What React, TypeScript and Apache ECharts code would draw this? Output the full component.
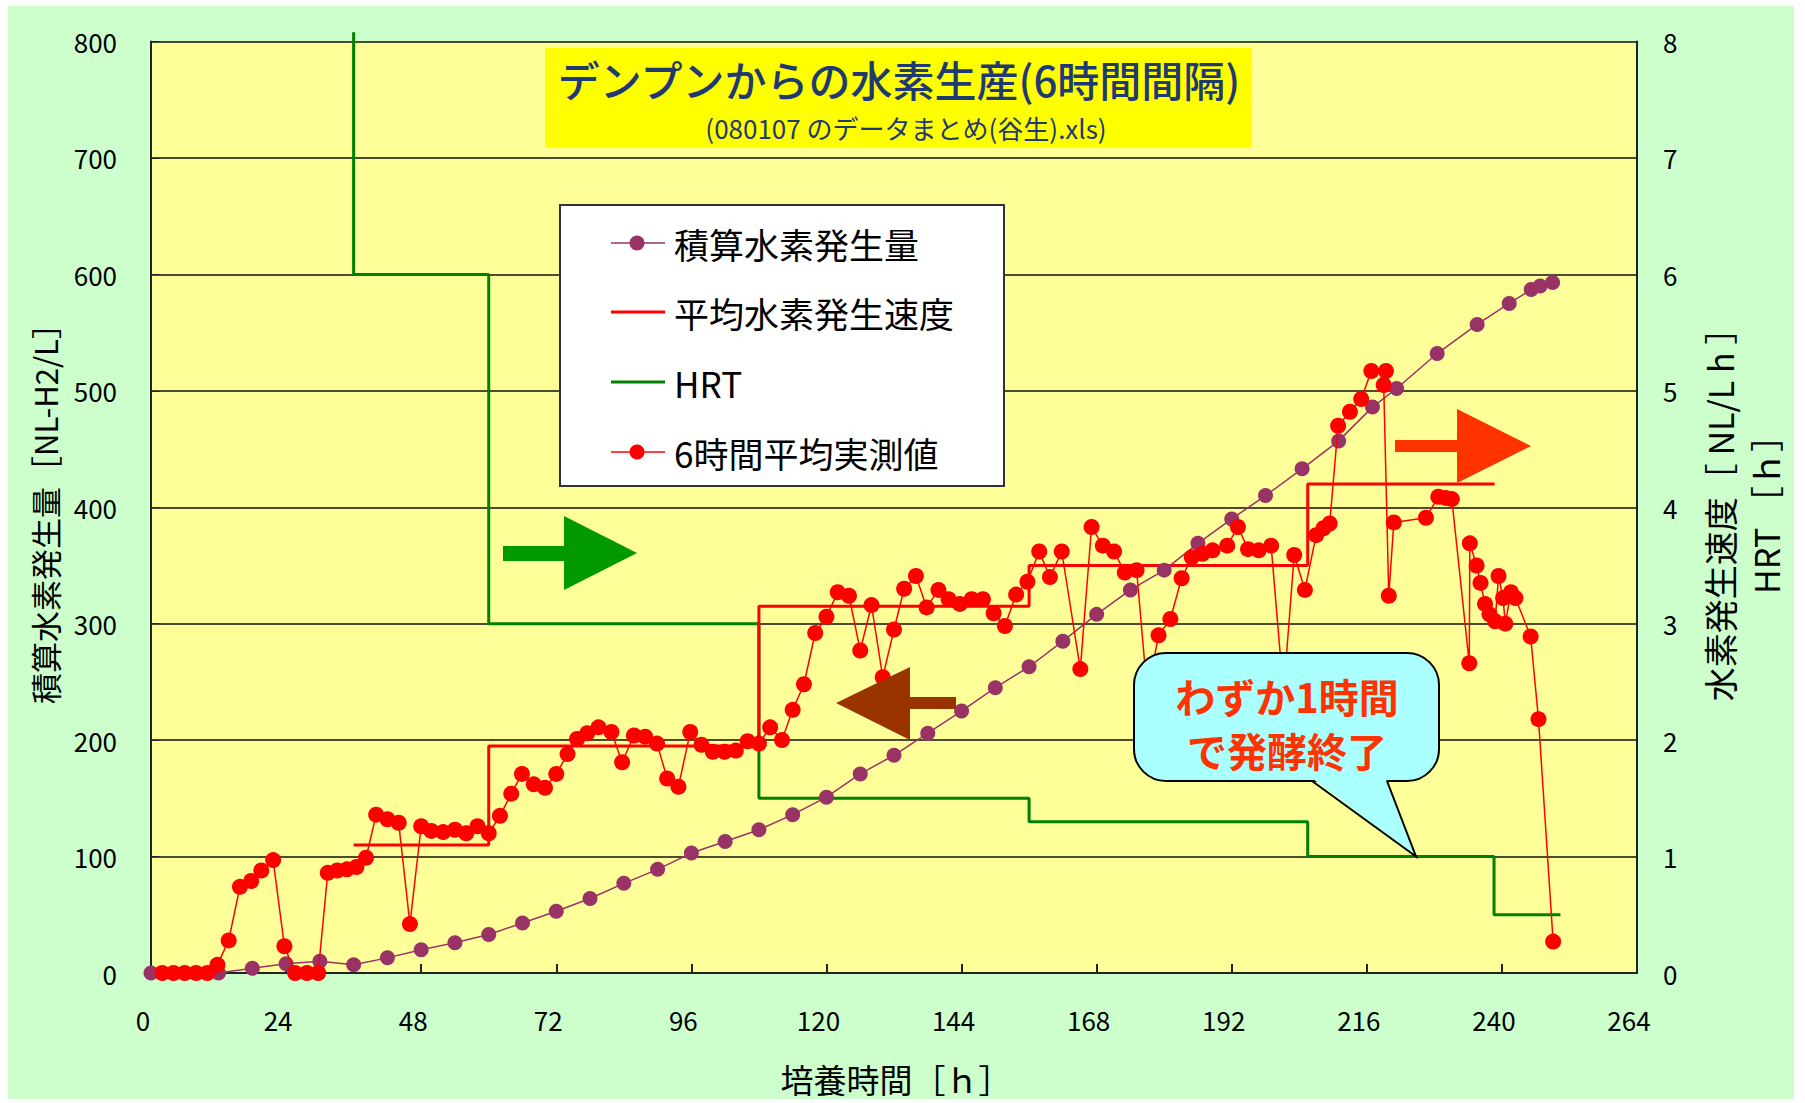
import React, { useEffect, useRef } from 'react';
import * as echarts from 'echarts';

// ---- data ----
const xTickStep = 24;
const xMax = 264;
const leftMax = 800;
const rightMax = 8;

// 積算水素発生量 [NL-H2/L] (left axis)
const cumHours = [0, 6, 12, 18, 24, 30, 36, 42, 48, 54, 60, 66, 72, 78, 84, 90, 96, 102, 108, 114, 120, 126, 132, 138, 144, 150, 156, 162, 168, 174, 180, 186, 192, 198, 204.5, 211, 217, 221.3, 228.5, 235.6, 241.3, 245.2, 246.8, 249];
const cumValues = [0, 0, 0, 4, 8, 10, 7, 13, 20, 26, 33, 43, 53, 64, 77, 89, 103, 113, 123, 136, 151, 171, 187, 206, 225, 245, 263, 285, 308, 329, 346, 369, 390, 410, 433, 457, 486, 502, 532, 557, 575, 587, 590, 593];

// 6時間平均実測値 [NL/L h] (right axis)
const rateHours = [2, 4, 6, 8, 10, 11.8, 13.8, 15.8, 17.8, 19.6, 21.7, 23.7, 25.6, 27.7, 29.7, 31.4, 33.1, 34.8, 36.5, 38.2, 40, 42, 44, 46, 48, 49.8, 51.9, 54, 56, 58, 60, 62, 64, 65.9, 68, 70, 72, 74, 75.7, 77.5, 79.5, 81.8, 83.7, 85.8, 87.8, 89.9, 91.7, 93.7, 95.8, 97.8, 99.8, 101.9, 103.9, 106, 108, 110, 112.1, 114, 116, 118, 120, 122, 124, 126, 128, 130, 132, 133.8, 135.9, 137.8, 139.9, 141.7, 143.7, 145.8, 147.8, 149.7, 151.7, 153.7, 155.7, 157.8, 159.7, 161.8, 165.1, 167.1, 169.1, 171.1, 173, 175.1, 177, 179, 181.1, 183.1, 184.9, 186.8, 188.6, 191.2, 193.1, 194.9, 196.8, 199, 201.2, 203.1, 205, 207, 208.3, 209.4, 210.9, 213, 215, 216.8, 219.4, 219, 219.9, 220.8, 226.5, 228.7, 230, 231.1, 234.2, 234.3, 235.5, 236.2, 237, 237.8, 238.8, 239.4, 240.2, 240.6, 241.6, 242.4, 245.1, 246.5, 249.1];
const rateValues = [0, 0, 0, 0, 0, 0.07, 0.28, 0.74, 0.79, 0.88, 0.97, 0.23, 0, 0, 0, 0.86, 0.88, 0.89, 0.91, 0.99, 1.36, 1.32, 1.29, 0.42, 1.26, 1.22, 1.21, 1.23, 1.2, 1.26, 1.2, 1.35, 1.54, 1.71, 1.62, 1.59, 1.71, 1.88, 2.01, 2.06, 2.11, 2.07, 1.81, 2.04, 2.03, 1.97, 1.67, 1.6, 2.07, 1.96, 1.9, 1.9, 1.91, 1.99, 1.97, 2.11, 2.0, 2.26, 2.48, 2.92, 3.06, 3.27, 3.24, 2.77, 3.16, 2.54, 2.95, 3.3, 3.41, 3.14, 3.29, 3.21, 3.17, 3.21, 3.21, 3.09, 2.98, 3.25, 3.36, 3.62, 3.4, 3.62, 2.61, 3.83, 3.67, 3.62, 3.44, 3.46, 2.4, 2.9, 3.04, 3.39, 3.57, 3.6, 3.63, 3.67, 3.83, 3.64, 3.63, 3.67, 2.4, 3.59, 3.29, 3.76, 3.82, 3.86, 4.7, 4.82, 4.93, 5.17, 5.17, 5.05, 3.24, 3.87, 3.91, 4.09, 4.08, 4.07, 2.66, 3.69, 3.5, 3.35, 3.17, 3.08, 3.02, 3.41, 3.22, 3.0, 3.27, 3.22, 2.89, 2.18, 0.27];

// 平均水素発生速度 (right axis, step line)
const avgHours = [36, 60, 60, 108, 108, 156, 156, 205.5, 205.5, 238.7];
const avgValues = [1.1, 1.1, 1.95, 1.95, 3.15, 3.15, 3.5, 3.5, 4.2, 4.2];

// HRT [h] (right axis, step line)
const hrtHours = [36, 36, 60, 60, 108, 108, 156, 156, 205.5, 205.5, 238.6, 238.6, 250.4];
const hrtValues = [8.08, 6, 6, 3, 3, 1.5, 1.5, 1.3, 1.3, 1, 1, 0.5, 0.5];

const seriesNames = ['積算水素発生量', '平均水素発生速度', 'HRT', '6時間平均実測値'];
const titleText = 'デンプンからの水素生産(6時間間隔)';
const subtitleText = '(080107 のデータまとめ(谷生).xls)';
const xAxisName = '培養時間［ｈ］';
const leftAxisName = '積算水素発生量［NL-H2/L］';
const rightAxisName1 = '水素発生速度［ NL/L h ］';
const rightAxisName2 = 'HRT ［ｈ］';
const calloutText = 'わずか1時間\nで発酵終了';

const zip = (a: number[], b: number[]) => a.map((v, i) => [v, b[i]]);

const FONT = "'Noto Sans CJK JP', 'Noto Sans', sans-serif";
const PURPLE = '#993366';
const RED = '#FF0000';
const GREEN = '#008000';
const NAVY = '#1F3A73';

export default function App() {
  const ref = useRef<HTMLDivElement>(null);

  useEffect(() => {
    if (!ref.current) return;
    const chart = echarts.init(ref.current, undefined, { renderer: 'svg' });

    const legendRows = [243, 312, 382, 452];
    const legendGraphics: any[] = [
      {
        type: 'rect', z: 10,
        shape: { x: 560, y: 205, width: 444, height: 281 },
        style: { fill: '#FFFFFF', stroke: '#333333', lineWidth: 2 },
      },
    ];
    const legendStyles = [
      { color: PURPLE, width: 1.5, dot: 15 },
      { color: RED, width: 3, dot: 0 },
      { color: GREEN, width: 3, dot: 0 },
      { color: RED, width: 1.5, dot: 15 },
    ];
    seriesNames.forEach((name, i) => {
      const y = legendRows[i];
      const st = legendStyles[i];
      legendGraphics.push({
        type: 'line', z: 11,
        shape: { x1: 611, y1: y, x2: 665, y2: y },
        style: { stroke: st.color, lineWidth: st.width },
      });
      if (st.dot) {
        legendGraphics.push({
          type: 'circle', z: 12,
          shape: { cx: 637, cy: y, r: st.dot / 2 },
          style: { fill: st.color },
        });
      }
      legendGraphics.push({
        type: 'text', z: 12, x: 674, y,
        style: { text: name, fill: '#000', font: `35px ${FONT}`, verticalAlign: 'middle', align: 'left' },
      });
    });

    const option: any = {
      animation: false,
      textStyle: { fontFamily: FONT },
      grid: {
        left: 151, right: 168, top: 41.5, bottom: 130,
        show: true, backgroundColor: '#FFFF99', borderWidth: 0,
        outerBoundsMode: 'none', containLabel: false,
      },
      xAxis: {
        type: 'value', min: 0, max: xMax, interval: xTickStep,
        axisLine: { show: true, onZero: false, lineStyle: { color: '#222', width: 2 } },
        axisTick: { show: true, inside: true, length: 9, lineStyle: { color: '#222', width: 2 } },
        splitLine: { show: false },
        axisLabel: { color: '#000', fontSize: 26, margin: 33, fontFamily: FONT, padding: [0, 16, 0, 0] },
      },
      yAxis: [
        {
          type: 'value', min: 0, max: leftMax, interval: 100, position: 'left',
          axisLine: { show: true, lineStyle: { color: '#222', width: 2 } },
          axisTick: { show: true, inside: true, length: 8, lineStyle: { color: '#222' } },
          splitLine: { show: true, lineStyle: { color: '#111', width: 1.5 } },
          axisLabel: { color: '#000', fontSize: 26, margin: 34, fontFamily: FONT },
        },
        {
          type: 'value', min: 0, max: rightMax, interval: 1, position: 'right',
          axisLine: { show: true, lineStyle: { color: '#222', width: 2 } },
          axisTick: { show: false },
          splitLine: { show: false },
          axisLabel: { color: '#000', fontSize: 26, margin: 26, fontFamily: FONT },
        },
      ],
      series: [
        {
          name: seriesNames[2], type: 'line', yAxisIndex: 1,
          data: zip(hrtHours, hrtValues), showSymbol: false, symbol: 'none',
          lineStyle: { color: GREEN, width: 3 }, clip: false, z: 2,
        },
        {
          name: seriesNames[1], type: 'line', yAxisIndex: 1,
          data: zip(avgHours, avgValues), showSymbol: false, symbol: 'none',
          lineStyle: { color: RED, width: 3 }, z: 3,
        },
        {
          name: seriesNames[0], type: 'line', yAxisIndex: 0,
          data: zip(cumHours, cumValues), symbol: 'circle', symbolSize: 15,
          itemStyle: { color: PURPLE }, lineStyle: { color: PURPLE, width: 1.5 }, z: 4,
        },
        {
          name: seriesNames[3], type: 'line', yAxisIndex: 1,
          data: zip(rateHours, rateValues), symbol: 'circle', symbolSize: 16,
          itemStyle: { color: RED }, lineStyle: { color: RED, width: 1.5 }, z: 5,
        },
      ],
      graphic: [
        // title box
        { type: 'rect', z: 10, shape: { x: 545, y: 48, width: 706, height: 100 }, style: { fill: '#FFFF00' } },
        { type: 'text', z: 11, x: 899, y: 78, style: { text: titleText, fill: NAVY, font: `500 42px ${FONT}`, align: 'center', verticalAlign: 'middle' } },
        { type: 'text', z: 11, x: 906, y: 127, style: { text: subtitleText, fill: NAVY, font: `26px ${FONT}`, align: 'center', verticalAlign: 'middle' } },
        ...legendGraphics,
        // arrows
        { type: 'polygon', z: 10, shape: { points: [[503, 546], [564, 546], [564, 516], [637, 553], [564, 590], [564, 561], [503, 561]] }, style: { fill: '#009900' } },
        { type: 'polygon', z: 10, shape: { points: [[956, 697], [910, 697], [910, 667], [836, 703], [910, 740], [910, 709], [956, 709]] }, style: { fill: '#993300' } },
        { type: 'polygon', z: 10, shape: { points: [[1395, 440], [1457, 440], [1457, 409], [1531, 446], [1457, 483], [1457, 452], [1395, 452]] }, style: { fill: '#FF3300' } },
        // callout
        { type: 'rect', z: 10, shape: { x: 1134, y: 653, width: 305, height: 128, r: 32 }, style: { fill: '#AAFFFF', stroke: '#000', lineWidth: 2 } },
        { type: 'polygon', z: 11, shape: { points: [[1313, 779], [1386, 779], [1416, 856]] }, style: { fill: '#AAFFFF' } },
        { type: 'polyline', z: 12, shape: { points: [[1312, 781], [1416, 856.5], [1387, 781]] }, style: { stroke: '#000', lineWidth: 2, fill: null } },
        { type: 'text', z: 13, x: 1287, y: 723, style: { text: calloutText, fill: '#FF3300', font: `bold 40px ${FONT}`, lineHeight: 54, align: 'center', verticalAlign: 'middle' } },
        // axis names
        { type: 'text', z: 10, x: 896, y: 1079, style: { text: xAxisName, fill: '#000', font: `33px ${FONT}`, align: 'center', verticalAlign: 'middle' } },
        { type: 'text', z: 10, x: 44, y: 506, rotation: Math.PI / 2, style: { text: leftAxisName, fill: '#000', font: `31px ${FONT}`, align: 'center', verticalAlign: 'middle' } },
        { type: 'text', z: 10, x: 1719, y: 506, rotation: Math.PI / 2, style: { text: rightAxisName1, fill: '#000', font: `34px ${FONT}`, align: 'center', verticalAlign: 'middle' } },
        { type: 'text', z: 10, x: 1765, y: 506, rotation: Math.PI / 2, style: { text: rightAxisName2, fill: '#000', font: `34px ${FONT}`, align: 'center', verticalAlign: 'middle' } },
      ],
    };

    chart.setOption(option);
    return () => chart.dispose();
  }, []);

  return (
    <div style={{ position: 'absolute', left: 0, top: 0, width: 1805, height: 1103, background: '#FFFFFF' }}>
      <div style={{ position: 'absolute', left: 8, top: 6, width: 1786, height: 1093, background: '#CCFFCC' }} />
      <div ref={ref} style={{ position: 'absolute', left: 0, top: 0, width: 1805, height: 1103 }} />
    </div>
  );
}
